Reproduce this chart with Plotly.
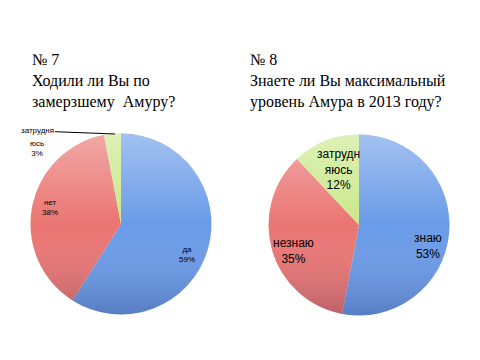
import base64
import plotly.graph_objects as go

# Chart 7
labels7 = ["да", "нет", "затрудняюсь"]
values7 = [59, 38, 3]
text7 = ["да<br>59%", "нет<br>38%", "затрудня<br>юсь<br>3%"]
title7 = ["№ 7", "Ходили ли Вы по", "замерзшему  Амуру?"]

# Chart 8
labels8 = ["знаю", "незнаю", "затрудняюсь"]
values8 = [53, 35, 12]
text8 = ["знаю<br>53%", "незнаю<br>35%", "затрудн<br>яюсь<br>12%"]
title8 = ["№ 8", "Знаете ли Вы максимальный", "уровень Амура в 2013 году?"]

colors = ["#6a9be8", "#ea7572", "#c9e88a"]

W, H = 480, 360
OFF = 8  # page body margin


def px(x, y):
    return (x - OFF) / W, 1 - (y - OFF) / H


def dom(cx, cy, r):
    x0, y1 = px(cx - r, cy - r)
    x1, y0 = px(cx + r, cy + r)
    return dict(x=[x0, x1], y=[y0, y1])


R = 90.5
c7 = (121, 224)
c8 = (359, 225)

fig = go.Figure()
for vals, labs, c in [(values7, labels7, c7), (values8, labels8, c8)]:
    fig.add_trace(go.Pie(
        labels=labs, values=vals, textinfo="none",
        sort=False, direction="clockwise", rotation=0,
        marker=dict(colors=colors, line=dict(color="white", width=0)),
        automargin=False, showlegend=False, hoverinfo="label+percent",
        domain=dom(c[0], c[1], R),
    ))

# soft vertical shading over each pie
svg = ('<svg xmlns="http://www.w3.org/2000/svg" viewBox="0 0 100 100">'
       '<defs><linearGradient id="g" x1="0" y1="0" x2="0" y2="1">'
       '<stop offset="0" stop-color="#ffffff" stop-opacity="0.38"/>'
       '<stop offset="0.5" stop-color="#ffffff" stop-opacity="0"/>'
       '<stop offset="1" stop-color="#101040" stop-opacity="0.22"/>'
       '</linearGradient></defs>'
       '<circle cx="50" cy="50" r="50" fill="url(#g)"/></svg>')
src = "data:image/svg+xml;base64," + base64.b64encode(svg.encode()).decode()
images = []
for c in (c7, c8):
    d = dom(c[0], c[1], R)
    images.append(dict(source=src, xref="paper", yref="paper",
                       x=d["x"][0], y=d["y"][1], sizex=d["x"][1] - d["x"][0],
                       sizey=d["y"][1] - d["y"][0], sizing="stretch",
                       xanchor="left", yanchor="top", layer="above"))

anns = []
serif = dict(family="Liberation Serif", size=16, color="#000000")
for i, line in enumerate(title7):
    x, y = px(30, 60 + 21 * i)
    anns.append(dict(x=x, y=y, xref="paper", yref="paper", text=line, showarrow=False,
                     xanchor="left", yanchor="middle", font=serif))
for i, line in enumerate(title8):
    x, y = px(248, 60 + 21 * i)
    anns.append(dict(x=x, y=y, xref="paper", yref="paper", text=line, showarrow=False,
                     xanchor="left", yanchor="middle", font=serif))

# data labels
small = dict(family="Liberation Sans", size=8, color="#000000")
big = dict(family="Liberation Sans", size=12, color="#000000")
lab_pos7 = [(187, 254), (50, 207)]
for t, (x0, y0) in zip(text7[:2], lab_pos7):
    x, y = px(x0, y0)
    anns.append(dict(x=x, y=y, xref="paper", yref="paper", text=t, showarrow=False,
                     xanchor="center", yanchor="middle", font=small))
# outside label with leader line from its first line to the small slice
out_lines = text7[2].split("<br>")
tx, ty = px(115, 134)
anns.append(dict(x=tx, y=ty, xref="paper", yref="paper", text=out_lines[0],
                 showarrow=True, arrowhead=0, arrowwidth=1, arrowcolor="#000000",
                 ax=-78, ay=-3, font=small, xanchor="center", yanchor="middle"))
x, y = px(37, 149)
anns.append(dict(x=x, y=y, xref="paper", yref="paper", text="<br>".join(out_lines[1:]),
                 showarrow=False, font=small, xanchor="center", yanchor="middle"))
lab_pos8 = [(428, 246), (293, 251), (338, 170)]
for t, (x0, y0) in zip(text8, lab_pos8):
    x, y = px(x0, y0)
    anns.append(dict(x=x, y=y, xref="paper", yref="paper", text=t, showarrow=False,
                     xanchor="center", yanchor="middle", font=big))

fig.update_layout(
    width=W, height=H,
    margin=dict(l=0, r=0, t=0, b=0),
    paper_bgcolor="white", plot_bgcolor="white",
    annotations=anns, images=images,
)
fig.write_html("out.html")
